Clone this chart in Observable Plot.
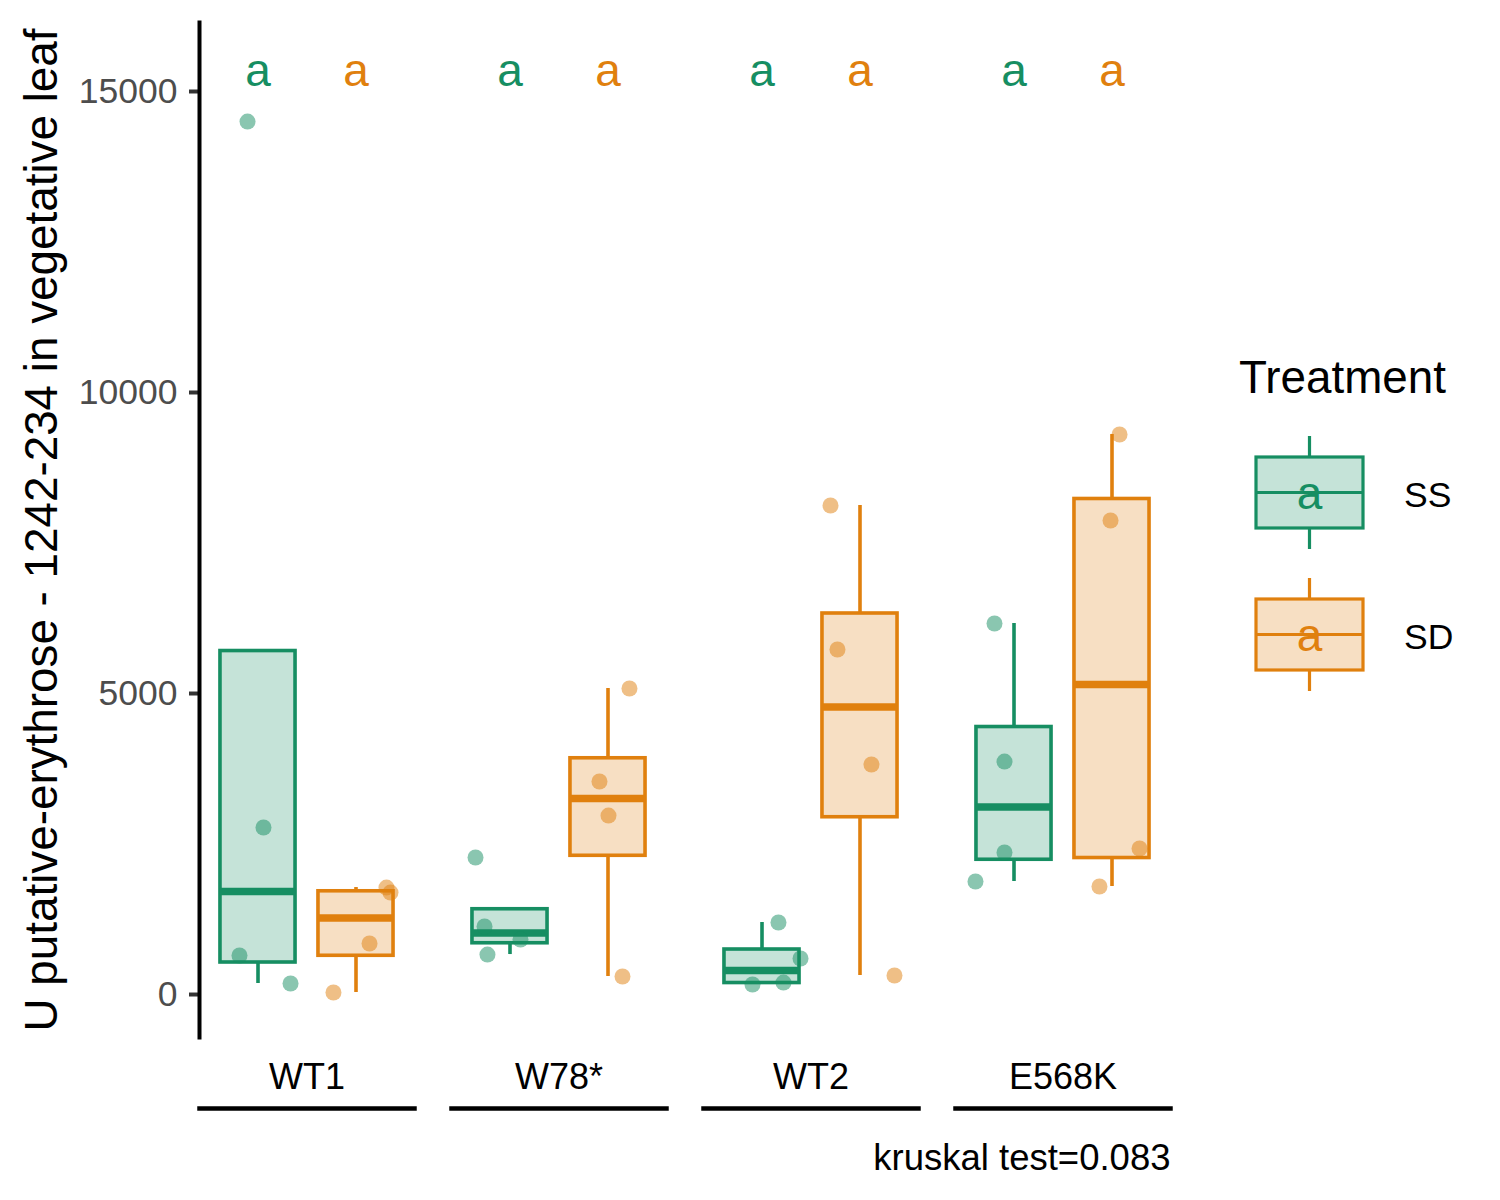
<!DOCTYPE html>
<html>
<head>
<meta charset="utf-8">
<script src="https://cdn.jsdelivr.net/npm/d3@7"></script>
<script src="https://cdn.jsdelivr.net/npm/@observablehq/plot@0.6"></script>
<style>
  body { margin: 0; background: #ffffff; }
  #wrap { position: relative; width: 1500px; height: 1200px; background: #ffffff; }
  #wrap > svg { position: absolute; left: 0; top: 0; }
</style>
</head>
<body>
<div id="wrap"></div>
<script>
// ---------------- data ----------------
const genotypes = ["WT1", "W78*", "WT2", "E568K"];
const treatments = ["SS", "SD"];
const treatmentColors = ["#168E62", "#E0800E"];

// replicate values, per genotype & treatment
const wt1SS = [14500, 2774, 648, 183];
const wt1SD = [1777, 1694, 847, 33];
const w78SS = [2276, 1130, 664, 914];
const w78SD = [5083, 3538, 2973, 299];
const wt2SS = [1196, 598, 166, 199];
const wt2SD = [8123, 5731, 3821, 316];
const e568SS = [6163, 3870, 2359, 1877];
const e568SD = [9302, 7874, 2425, 1794];

// horizontal jitter of each replicate (fraction of dodge step)
const wt1SSJit = [-0.107, 0.056, -0.189, 0.332];
const wt1SDJit = [0.311, 0.352, 0.138, -0.230];
const w78SSJit = [-0.352, -0.260, -0.230, 0.107];
const w78SDJit = [0.219, -0.087, 0.005, 0.148];
const wt2SSJit = [0.168, 0.393, -0.097, 0.219];
const wt2SDJit = [-0.301, -0.230, 0.117, 0.352];
const e568SSJit = [-0.199, -0.097, -0.097, -0.393];
const e568SDJit = [0.077, -0.015, 0.281, -0.128];

// significance letters (SS, SD per genotype)
const lettersSS = ["a", "a", "a", "a"];
const lettersSD = ["a", "a", "a", "a"];
const letterY = 15330;

const yTicks = [0, 5000, 10000, 15000];
const yDomain = [-714, 16146];
const yTitle = "U putative-erythrose - 1242-234 in vegetative leaf";
const caption = "kruskal test=0.083";
const legendTitle = "Treatment";

// ---------------- build tables ----------------
const groupValues = [[wt1SS, wt1SD], [w78SS, w78SD], [wt2SS, wt2SD], [e568SS, e568SD]];
const groupJitter = [[wt1SSJit, wt1SDJit], [w78SSJit, w78SDJit], [wt2SSJit, wt2SDJit], [e568SSJit, e568SDJit]];
const groupLetters = [lettersSS, lettersSD];

function boxStats(vals) {
  const s = vals.slice().sort(d3.ascending);
  const q1 = d3.quantileSorted(s, 0.25), med = d3.quantileSorted(s, 0.5), q3 = d3.quantileSorted(s, 0.75);
  const iqr = q3 - q1;
  const inl = s.filter(v => v >= q1 - 1.5 * iqr && v <= q3 + 1.5 * iqr);
  return {q1, med, q3, lo: Math.min(q1, d3.min(inl)), hi: Math.max(q3, d3.max(inl))};
}

const boxes = [];
const points = [];
genotypes.forEach((g, gi) => {
  treatments.forEach((t, ti) => {
    const vals = groupValues[gi][ti];
    boxes.push({g, t, xi: ti, letter: groupLetters[ti][gi], ly: letterY, ...boxStats(vals)});
    vals.forEach((v, k) => points.push({g, t, xi: ti, jit: groupJitter[gi][ti][k], v}));
  });
});

const halfW = 0.383;
const lw = 3.6;

const plot = Plot.plot({
  width: 1500,
  height: 1200,
  marginLeft: 199,
  marginRight: 330,
  marginTop: 22,
  marginBottom: 163,
  style: {fontFamily: "'Liberation Sans', Arial, Helvetica, sans-serif", background: "#ffffff", color: "#000000"},
  fx: {domain: genotypes, paddingInner: 37 / 252, paddingOuter: 0, round: false},
  x: {domain: [-0.597, 1.597], axis: null},
  y: {domain: yDomain},
  color: {domain: treatments, range: treatmentColors},
  marks: [
    Plot.axisY({ticks: yTicks, tickSize: 10, tickPadding: 12, fontSize: 35.5, fill: "#4d4d4d", stroke: "#333333", strokeWidth: 4, tickFormat: d => String(d), label: null}),
    Plot.axisFx({anchor: "bottom", tickSize: 0, tickPadding: 26, fontSize: 36, fill: "#000000", label: null}),
    Plot.frame({anchor: "left", facetAnchor: "left", stroke: "#000000", strokeWidth: 4}),
    Plot.frame({anchor: "bottom", dy: 71, stroke: "#000000", strokeWidth: 4.5}),
    Plot.ruleX(boxes, {fx: "g", x: "xi", y1: "lo", y2: "q1", stroke: "t", strokeWidth: lw}),
    Plot.ruleX(boxes, {fx: "g", x: "xi", y1: "q3", y2: "hi", stroke: "t", strokeWidth: lw}),
    Plot.rect(boxes, {fx: "g", x1: d => d.xi - halfW, x2: d => d.xi + halfW, y1: "q1", y2: "q3", fill: "t", fillOpacity: 0.25, stroke: "t", strokeWidth: lw}),
    Plot.ruleY(boxes, {fx: "g", x1: d => d.xi - halfW, x2: d => d.xi + halfW, y: "med", stroke: "t", strokeWidth: 7.5}),
    Plot.dot(points, {fx: "g", x: d => d.xi + d.jit, y: "v", r: 8, fill: "t", fillOpacity: 0.5, stroke: null}),
    Plot.text(boxes, {fx: "g", x: "xi", y: "ly", text: "letter", fill: "t", fontSize: 46}),
    Plot.text([yTitle], {text: d => d, facet: "super", frameAnchor: "left", textAnchor: "middle", rotate: -90, dx: -157, fontSize: 45.8, fill: "#000000"}),
    Plot.text([caption], {text: d => d, facet: "super", frameAnchor: "bottom-right", textAnchor: "end", dy: 132, fontSize: 36.5, fill: "#000000"})
  ]
});

const wrap = document.getElementById("wrap");
wrap.appendChild(plot);

// ---------------- legend (right side) ----------------
const leg = d3.select(wrap).append("svg")
  .attr("width", 1500).attr("height", 1200)
  .style("font-family", "'Liberation Sans', Arial, Helvetica, sans-serif")
  .style("pointer-events", "none");

leg.append("text").attr("x", 1239).attr("y", 393).attr("font-size", 45.8).attr("fill", "#000").text(legendTitle);

const keyTops = [457, 599];
treatments.forEach((t, i) => {
  const c = treatmentColors[i];
  const top = keyTops[i], h = 71, left = 1256, w = 107, cx = left + w / 2;
  const g = leg.append("g");
  g.append("line").attr("x1", cx).attr("x2", cx).attr("y1", top - 21).attr("y2", top).attr("stroke", c).attr("stroke-width", 3.2);
  g.append("line").attr("x1", cx).attr("x2", cx).attr("y1", top + h).attr("y2", top + h + 21).attr("stroke", c).attr("stroke-width", 3.2);
  g.append("rect").attr("x", left).attr("y", top).attr("width", w).attr("height", h)
    .attr("fill", c).attr("fill-opacity", 0.25).attr("stroke", c).attr("stroke-width", 3.2);
  g.append("line").attr("x1", left).attr("x2", left + w).attr("y1", top + h / 2).attr("y2", top + h / 2).attr("stroke", c).attr("stroke-width", 3.2);
  g.append("text").attr("x", cx).attr("y", top + 52).attr("text-anchor", "middle").attr("font-size", 46).attr("fill", c).text("a");
  g.append("text").attr("x", 1404).attr("y", top + 49.5).attr("font-size", 35.5).attr("fill", "#000").text(t);
});
</script>
</body>
</html>
